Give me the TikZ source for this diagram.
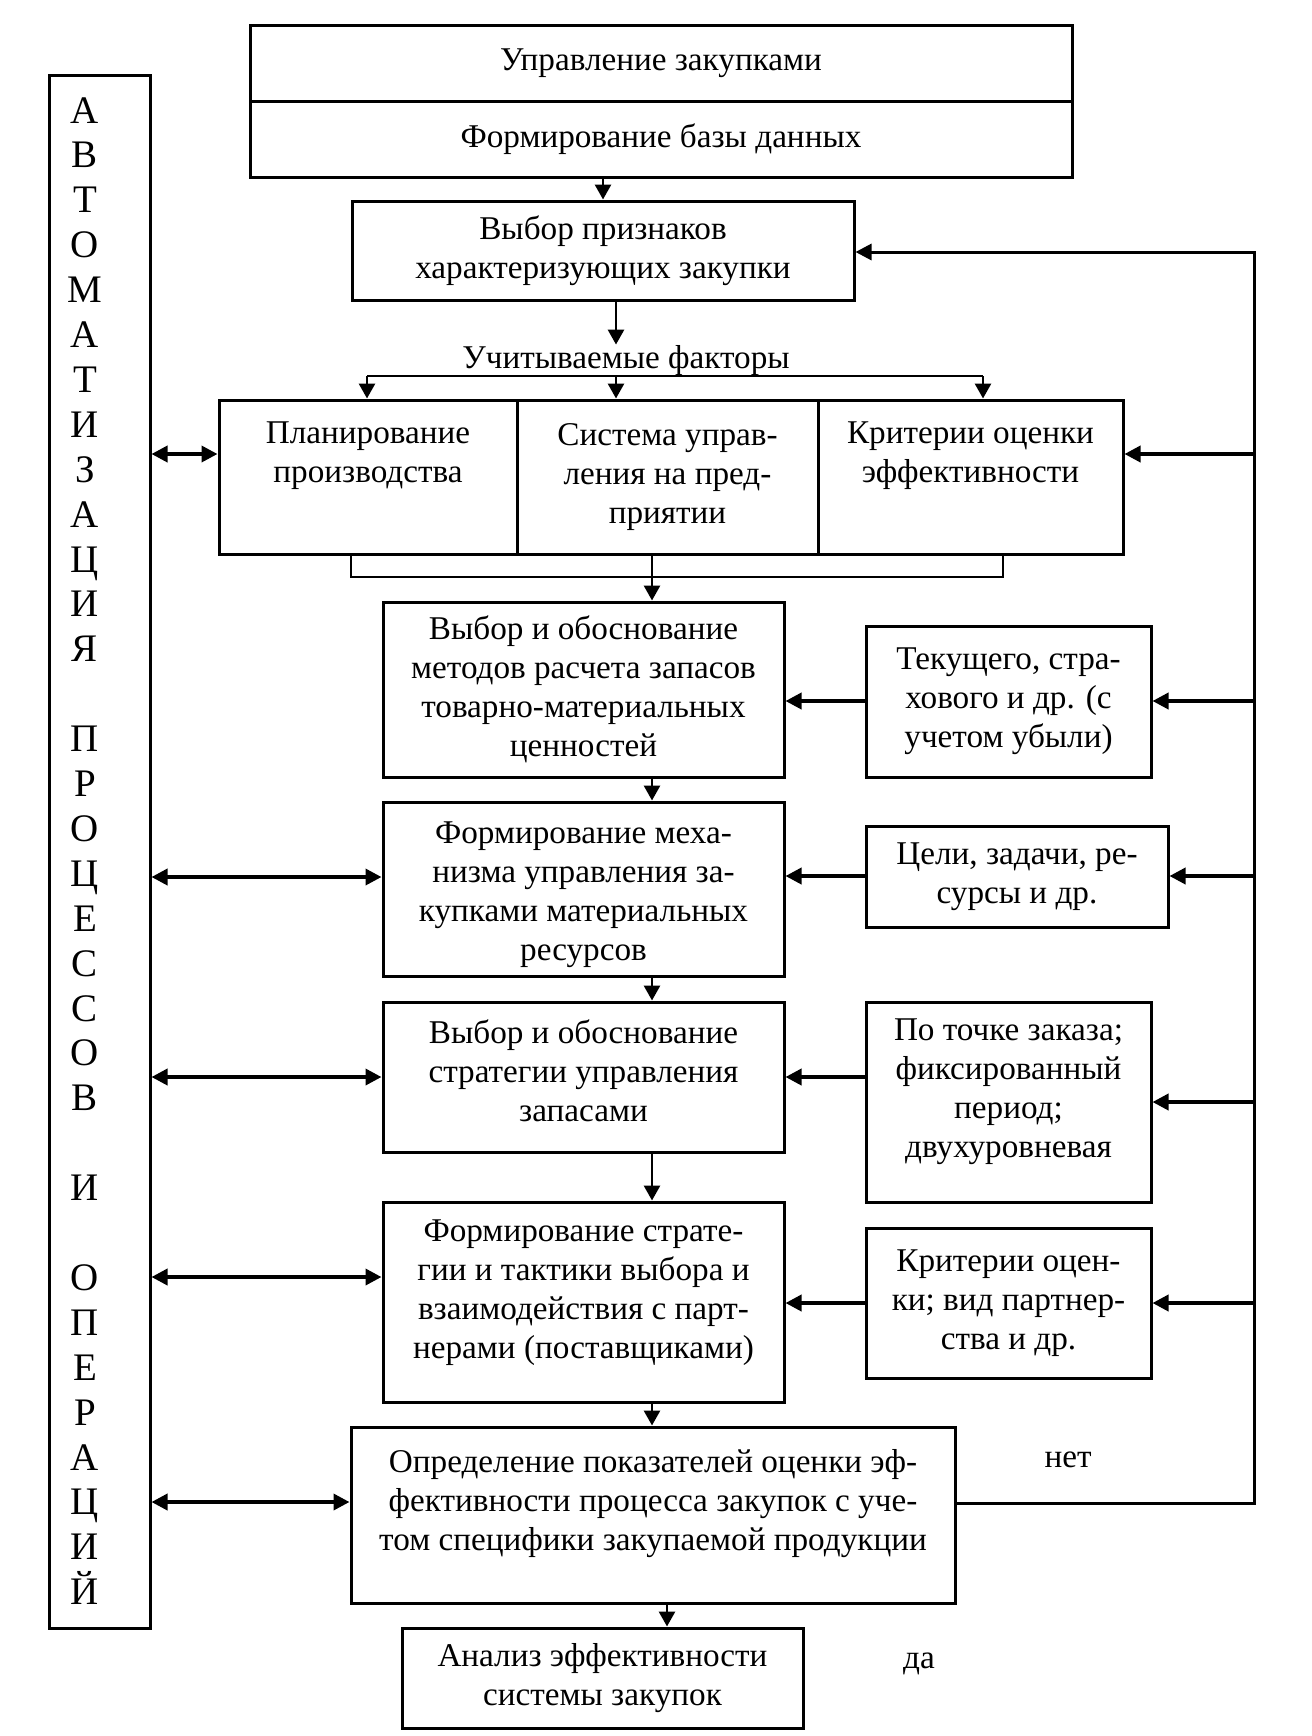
\documentclass[tikz,border=0pt]{standalone}
\usepackage{fontspec}
\setmainfont{Liberation Serif}
\usetikzlibrary{arrows.meta,calc}
\newcommand\boxfont{\fontsize{16.6}{19.5}\selectfont}
\newcommand\vfont{\fontsize{19.5}{22}\selectfont}
\begin{document}
\begin{tikzpicture}[x=0.5pt,y=-0.5pt,
  box/.style={draw,line width=1.5pt,inner sep=0pt,align=center,font=\boxfont},
  plain/.style={inner sep=0pt,font=\boxfont},
  arr/.style={line width=1.4pt,-{Triangle[length=7.5pt,width=8pt]}},
  harr/.style={line width=1.8pt,-{Triangle[length=8pt,width=8pt]}},
  darr/.style={line width=1.8pt,{Triangle[length=8pt,width=8pt]}-{Triangle[length=8pt,width=8pt]}},
  ln/.style={line width=1pt},
  loop/.style={line width=1.5pt}]
\useasboundingbox (0,0) rectangle (1312,1736);

% top
\node[box,minimum width=411pt,minimum height=38pt] (topA) at (661,63) {Управление закупками};
\node[box,minimum width=411pt,minimum height=38pt] (topB) at (661,139) {Формирование базы данных};
\node[box,minimum width=251pt,minimum height=49.5pt] (sel) at (603,250.5) {Выбор признаков\\характеризующих закупки};
\node[plain,anchor=base] (fact) at (626,368) {Учитываемые факторы};

% factors row
\node[box,minimum width=149pt,minimum height=77pt] (row1) at (368,477) {Планирование\\производства\\\strut};
\node[box,minimum width=150.5pt,minimum height=77pt] (row2) at (667.5,477) {Система управ-\\ления на пред-\\приятии};
\node[box,minimum width=152.5pt,minimum height=77pt] (row3) at (970.5,477) {Критерии оценки\\эффективности\\\strut};

% main column
\node[box,minimum width=200.5pt,minimum height=87.5pt] (m1) at (583.5,689.5) {Выбор и обоснование\\методов расчета запасов\\товарно-материальных\\ценностей};
\node[box,minimum width=200.5pt,minimum height=87pt] (m2) at (583.5,889) {\rule{0pt}{17pt}Формирование меха-\\низма управления за-\\купками материальных\\ресурсов};
\node[box,minimum width=200.5pt,minimum height=75pt] (m3) at (583.5,1077) {Выбор и обоснование\\стратегии управления\\запасами\rule[-6.7pt]{0pt}{6.7pt}};
\node[box,minimum width=200.5pt,minimum height=100pt] (m4) at (583.5,1302) {Формирование страте-\\гии и тактики выбора и\\взаимодействия с парт-\\нерами (поставщиками)\\[-12pt]\strut};
\node[box,minimum width=302pt,minimum height=88pt] (m5) at (653,1515) {Определение показателей оценки эф-\\фективности процесса закупок с уче-\\том специфики закупаемой продукции\\[-10pt]\strut};
\node[box,minimum width=200.5pt,minimum height=50pt] (m6) at (602.5,1678) {Анализ эффективности\\системы закупок};

% right column
\node[box,minimum width=142.5pt,minimum height=75.5pt] (r1) at (1008.5,701.5) {Текущего, стра-\\хового и др. (с\\учетом убыли)};
\node[box,minimum width=151pt,minimum height=50.5pt] (r2) at (1017,876.5) {Цели, задачи, ре-\\сурсы и др.};
\node[box,minimum width=142.5pt,minimum height=100pt] (r3) at (1008.5,1102) {По точке заказа;\\фиксированный\\период;\\двухуровневая\\[-11pt]\strut};
\node[box,minimum width=142.5pt,minimum height=75pt] (r4) at (1008.5,1303) {Критерии оцен-\\ки; вид партнер-\\ства и др.};

\node[plain] (no) at (1068,1460) {нет};
\node[plain] (yes) at (919,1664) {да};

% left column
\node[draw,line width=1.5pt,inner sep=0pt,minimum width=50.5pt,minimum height=776.5pt] (autobox) at (99.5,851.5) {};
\foreach \i/\c in {0/А,1/В,2/Т,3/О,4/М,5/А,6/Т,7/И,8/З,9/А,10/Ц,11/И,12/Я,
  14/П,15/Р,16/О,17/Ц,18/Е,19/С,20/С,21/О,22/В,24/И,
  26/О,27/П,28/Е,29/Р,30/А,31/Ц,32/И,33/Й}
  \node[inner sep=0pt,font=\vfont,anchor=base] (let\i) at (85,123+44.9*\i) {\c};

% helper coordinates
\coordinate (h1) at (367,376);
\coordinate (h2) at (616,376);
\coordinate (h3) at (983,376);
\coordinate (xc) at (652,0);
\coordinate (x667) at (667,0);
\coordinate (x616) at (616,0);
\coordinate (Rtop) at (1254,252);
\coordinate (Rrow) at (1254,454);
\coordinate (Rr1) at (1254,701);
\coordinate (Rr2) at (1254,876);
\coordinate (Rr3) at (1254,1102);
\coordinate (Rr4) at (1254,1303);
\coordinate (Rbot) at (1254,1503);
\coordinate (Lrow) at (0,454);
\coordinate (Lm2) at (0,877);
\coordinate (Lm3) at (0,1077);
\coordinate (Lm4) at (0,1277);
\coordinate (Lm5) at (0,1502);
\coordinate (Om3) at (0,1077);

% vertical flow
\draw[arr] (topB.south -| sel) -- (sel.north);
\draw[arr] (sel.south -| x616) -- (fact.north -| x616);
\draw[ln] (h1) -- (h3);
\foreach \h in {h1,h2,h3} \draw[arr] (\h) -- (\h |- row1.north);
\draw[ln] (351,554) -- (351,577) -- (1003,577) -- (1003,554);
\draw[arr] (row2.south -| xc) -- (m1.north -| xc);
\draw[arr] (m1.south -| xc) -- (m2.north -| xc);
\draw[arr] (m2.south -| xc) -- (m3.north -| xc);
\draw[arr] (m3.south -| xc) -- (m4.north -| xc);
\draw[arr] (m4.south -| xc) -- (m5.north -| xc);
\draw[arr] (m5.south -| x667) -- (m6.north -| x667);

% feedback loop on the right
\draw[loop,-{Triangle[length=8pt,width=8pt]}] (m5.east |- Rbot) -- (Rbot) -- (Rtop) -- (sel.east |- Rtop);
\draw[harr] (Rrow) -- (row3.east |- Rrow);
\draw[harr] (Rr1) -- (r1.east |- Rr1);
\draw[harr] (Rr2) -- (r2.east |- Rr2);
\draw[harr] (Rr3) -- (r3.east |- Rr3);
\draw[harr] (Rr4) -- (r4.east |- Rr4);

% right boxes into main column
\draw[harr] (r1.west |- Rr1) -- (m1.east |- Rr1);
\draw[harr] (r2.west |- Rr2) -- (m2.east |- Rr2);
\draw[harr] (r3.west |- Om3) -- (m3.east |- Om3);
\draw[harr] (r4.west |- Rr4) -- (m4.east |- Rr4);

% left double arrows
\draw[darr] (autobox.east |- Lrow) -- (row1.west |- Lrow);
\draw[darr] (autobox.east |- Lm2) -- (m2.west |- Lm2);
\draw[darr] (autobox.east |- Lm3) -- (m3.west |- Lm3);
\draw[darr] (autobox.east |- Lm4) -- (m4.west |- Lm4);
\draw[darr] (autobox.east |- Lm5) -- (m5.west |- Lm5);
\end{tikzpicture}
\end{document}
